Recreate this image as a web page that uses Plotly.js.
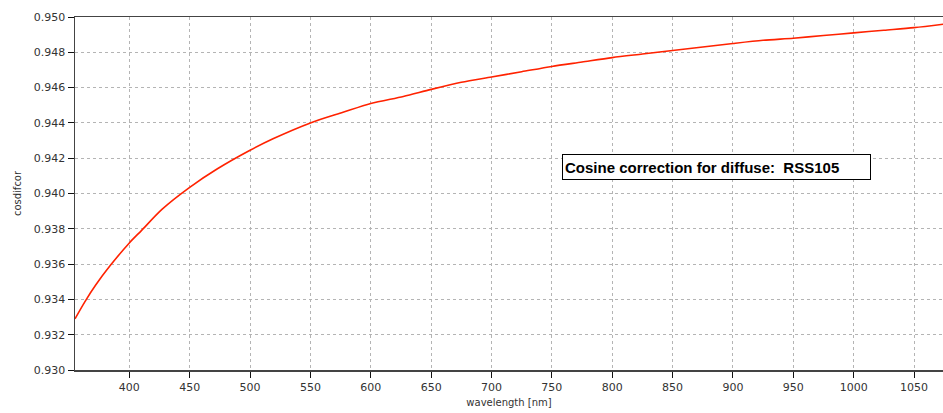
<!DOCTYPE html>
<html>
<head>
<meta charset="utf-8">
<script src="https://cdn.plot.ly/plotly-3.0.1.min.js"></script>
<style>html,body{margin:0;padding:0;background:#fff;}#chart{width:943px;height:413px;}</style>
</head>
<body>
<div id="chart"></div>
<script>
// wavelength in nm
const wavelength = [355, 363, 372, 384, 400, 410, 427, 450, 473, 500, 519, 550, 577, 600, 627, 650, 675, 700, 725, 750, 775, 800, 825, 850, 875, 900, 925, 950, 975, 1000, 1025, 1050, 1075];
// cosine correction for diffuse
const cosdifcor = [0.9329, 0.93385, 0.9348, 0.9359, 0.9372, 0.9379, 0.9391, 0.94035, 0.9414, 0.94245, 0.9431, 0.9440, 0.9446, 0.9451, 0.9455, 0.9459, 0.9463, 0.9466, 0.9469, 0.9472, 0.94745, 0.9477, 0.9479, 0.9481, 0.9483, 0.9485, 0.94868, 0.9488, 0.94895, 0.9491, 0.94925, 0.9494, 0.9496];
const xTitle = "wavelength [nm]";
const yTitle = "cosdifcor";
const boxText = "Cosine correction for diffuse:  RSS105";

const trace = {
  x: wavelength,
  y: cosdifcor,
  type: "scatter",
  mode: "lines",
  line: {color: "#ff2200", width: 1.6, shape: "spline", smoothing: 0.8},
  hoverinfo: "skip"
};

const layout = {
  width: 943, height: 413,
  margin: {l: 75, r: 0, t: 17, b: 43},
  paper_bgcolor: "#ffffff", plot_bgcolor: "#ffffff",
  showlegend: false,
  font: {family: "DejaVu Sans, Verdana, sans-serif", size: 11, color: "#333"},
  xaxis: {
    range: [355, 1074], dtick: 50, tick0: 0,
    showgrid: true, gridcolor: "#b4b4b4", griddash: "dot", gridwidth: 1,
    zeroline: false,
    showline: true, linecolor: "#444", linewidth: 1.5, mirror: true,
    ticks: "outside", ticklen: 6, tickcolor: "#111", tickwidth: 1,
    tickfont: {size: 11, color: "#333"},
    title: {text: xTitle, font: {size: 10, color: "#333"}, standoff: 6}
  },
  yaxis: {
    range: [0.930, 0.950], dtick: 0.002, tick0: 0.930, tickformat: ".3f",
    showgrid: true, gridcolor: "#b4b4b4", griddash: "dot", gridwidth: 1,
    zeroline: false,
    showline: true, linecolor: "#444", linewidth: 1.5,
    ticks: "outside", ticklen: 6, tickcolor: "#111", tickwidth: 1,
    tickfont: {size: 11, color: "#333"},
    title: {text: yTitle, font: {size: 10, color: "#333"}, standoff: 10}
  },
  annotations: [{
    xref: "paper", yref: "paper",
    x: 0.5607, y: 0.575, xanchor: "left", yanchor: "middle",
    text: boxText, showarrow: false, align: "left",
    width: 303, height: 20,
    font: {family: "Liberation Sans, Arial, sans-serif", size: 15, color: "#000", weight: "bold"},
    bgcolor: "#ffffff", bordercolor: "#000", borderwidth: 1, borderpad: 2
  }]
};

Plotly.newPlot("chart", [trace], layout, {staticPlot: true, displayModeBar: false});
</script>
</body>
</html>
